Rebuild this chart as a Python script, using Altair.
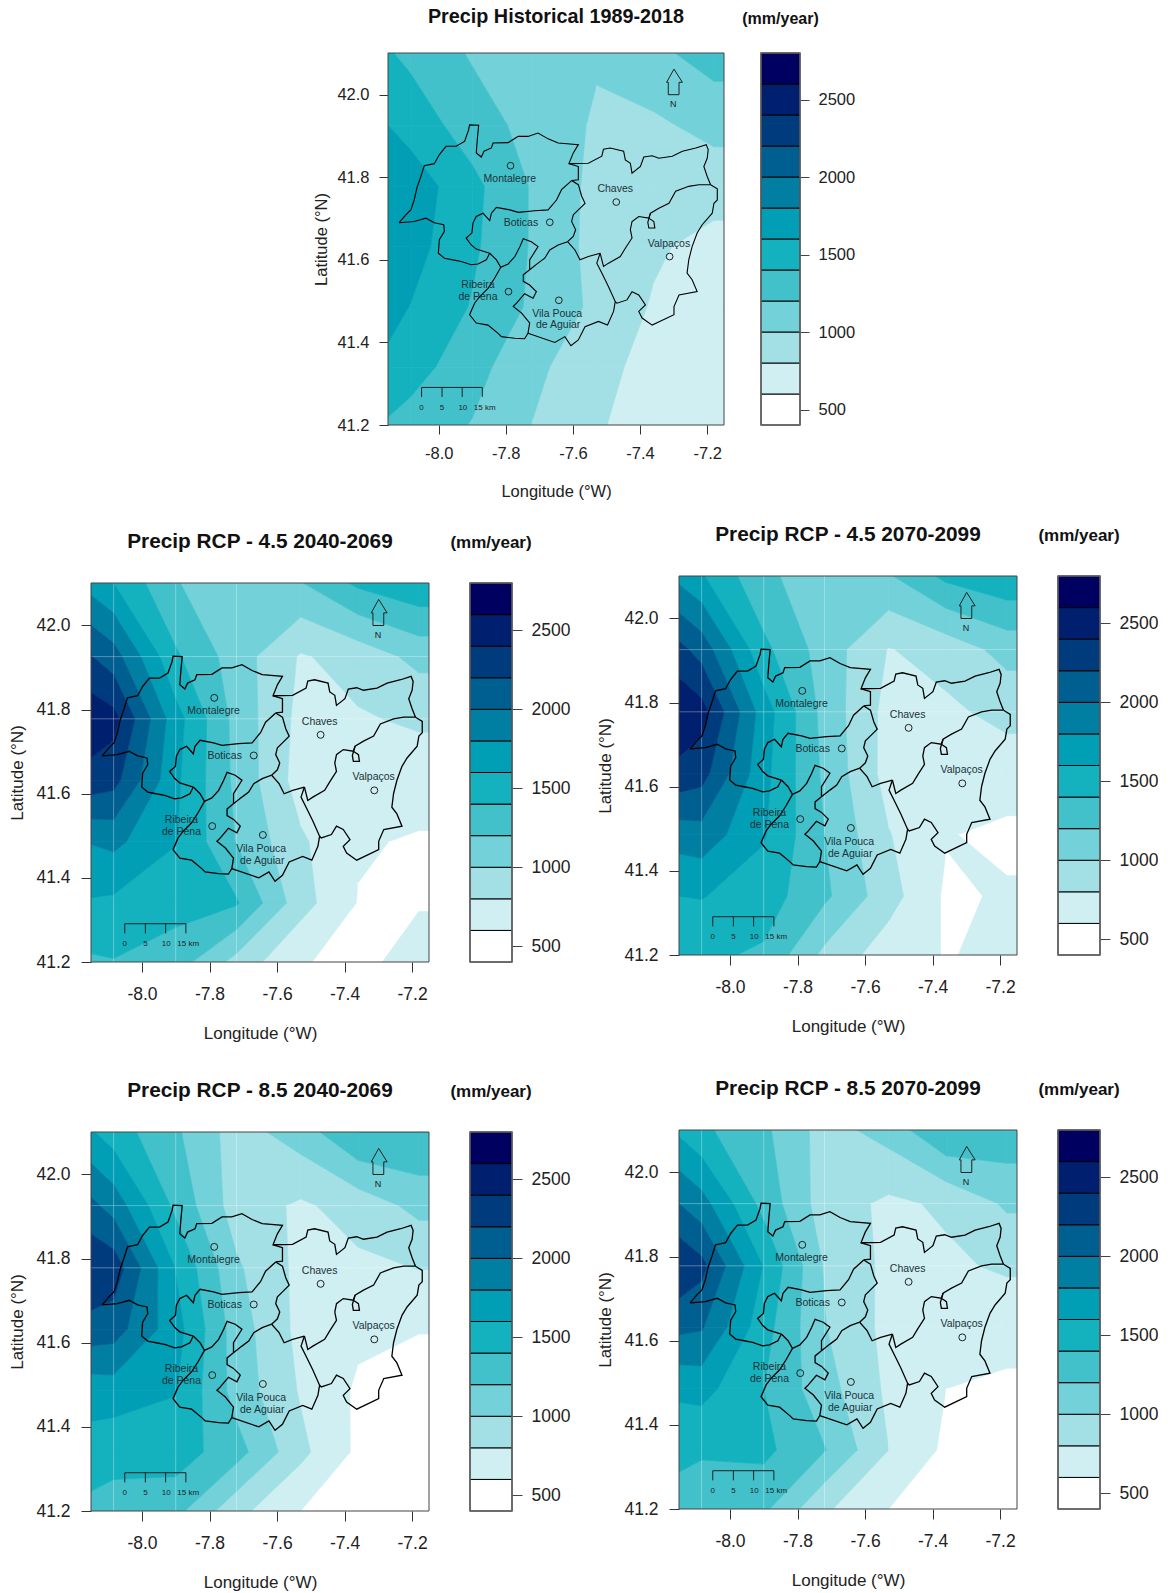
import altair as alt
import pandas as pd

FONT = "Liberation Sans"
LONS = [-8.151, -8.084, -7.90, -7.72, -7.53, -7.36, -7.18]
LATS = [42.101, 41.926, 41.778, 41.632, 41.486, 41.34, 41.2]
LON_MIN, LON_MAX, LAT_MIN, LAT_MAX = -8.151, -7.15, 41.2, 42.101

LEVELS = [400, 600, 800, 1000, 1200, 1400, 1600, 1800, 2000, 2200, 2400, 2600, 2800]
COLORS = ["#FFFFFF", "#CFEFF2", "#A3E0E6", "#72D1D9", "#43C1CB", "#14B2BF",
          "#009FB6", "#007FA3", "#005F91", "#003B7D", "#001F6E", "#000060"]

HIST = [
    [1417, 1353, 1178, 1095, 1020, 1150, 1290],
    [1600, 1520, 1298, 1130, 975, 965, 1060],
    [1780, 1720, 1455, 1180, 940, 845, 890],
    [1760, 1680, 1435, 1180, 930, 830, 730],
    [1660, 1595, 1385, 1165, 955, 780, 680],
    [1560, 1485, 1275, 1045, 875, 720, 650],
    [1375, 1320, 1190, 995, 825, 690, 630],
]
RCP45_A = [
    [1720, 1600, 1210, 1080, 1190, 1440, 1560],
    [2210, 2090, 1430, 1100, 780, 880, 1060],
    [2540, 2470, 1680, 1130, 740, 780, 830],
    [2320, 2270, 1640, 1150, 710, 680, 690],
    [1810, 1850, 1610, 1190, 830, 620, 580],
    [1580, 1560, 1470, 1420, 880, 590, 590],
    [1370, 1390, 1300, 930, 610, 560, 660],
]
RCP45_B = [
    [1740, 1620, 1240, 1090, 1180, 1450, 1560],
    [2260, 2120, 1450, 1110, 790, 880, 1070],
    [2570, 2480, 1700, 1130, 730, 760, 860],
    [2340, 2280, 1660, 1160, 720, 680, 690],
    [1890, 1920, 1620, 1200, 810, 610, 560],
    [1600, 1610, 1500, 1240, 880, 570, 620],
    [1430, 1440, 1370, 950, 690, 590, 640],
]
RCP85_A = [
    [1620, 1500, 1230, 910, 1100, 1400, 1400],
    [2050, 1920, 1350, 900, 770, 880, 1060],
    [2380, 2320, 1590, 1030, 745, 760, 805],
    [2120, 2090, 1680, 1100, 740, 640, 605],
    [1680, 1700, 1610, 1120, 780, 570, 540],
    [1520, 1470, 1500, 1280, 850, 560, 500],
    [1340, 1320, 1260, 860, 600, 500, 450],
]
RCP85_B = [
    [1560, 1440, 1240, 920, 1080, 1400, 1340],
    [2000, 1880, 1330, 900, 760, 830, 1030],
    [2370, 2260, 1590, 980, 750, 765, 830],
    [2050, 2020, 1480, 1010, 740, 690, 660],
    [1640, 1670, 1400, 1080, 760, 600, 570],
    [1460, 1420, 1450, 1210, 800, 560, 500],
    [1300, 1300, 1240, 830, 600, 500, 450],
]

BOUNDARIES = [
    [(-8.118,41.690),(-8.098,41.709),(-8.083,41.721),(-8.073,41.745),(-8.065,41.774),(-8.053,41.802),(-8.043,41.828),
     (-8.013,41.833),(-7.998,41.855),(-7.978,41.875),(-7.948,41.875),(-7.923,41.887),(-7.911,41.914),(-7.908,41.927),
     (-7.881,41.926),(-7.885,41.891),(-7.888,41.859),(-7.873,41.849),(-7.865,41.863),(-7.843,41.871),(-7.838,41.883),
     (-7.793,41.884),(-7.763,41.899),(-7.734,41.899),(-7.704,41.907),(-7.674,41.893),(-7.644,41.883),(-7.584,41.879),
     (-7.599,41.859),(-7.612,41.833),(-7.584,41.826),(-7.584,41.794),(-7.604,41.792)],
    [(-7.604,41.792),(-7.634,41.770),(-7.649,41.745),(-7.674,41.721),(-7.714,41.719),(-7.763,41.715),(-7.788,41.721),
     (-7.828,41.727),(-7.843,41.713),(-7.848,41.695),(-7.868,41.713),(-7.888,41.705),(-7.898,41.689),(-7.901,41.665),
     (-7.918,41.653),(-7.903,41.636),(-7.888,41.626),(-7.848,41.616)],
    [(-7.848,41.616),(-7.858,41.600),(-7.883,41.590),(-7.903,41.588),(-7.933,41.596),(-7.958,41.600),(-7.983,41.604),
     (-8.001,41.616),(-7.998,41.649),(-7.983,41.669),(-7.985,41.685),(-8.013,41.690),(-8.038,41.701),(-8.073,41.693),(-8.118,41.690)],
    [(-7.604,41.792),(-7.584,41.782),(-7.574,41.754),(-7.564,41.737),(-7.584,41.721),(-7.599,41.709),(-7.604,41.693),
     (-7.592,41.673),(-7.599,41.657),(-7.616,41.644)],
    [(-7.616,41.644),(-7.644,41.636),(-7.669,41.624),(-7.684,41.604),(-7.704,41.592),(-7.729,41.576)],
    [(-7.848,41.616),(-7.828,41.600),(-7.815,41.582),(-7.793,41.590),(-7.773,41.608),(-7.758,41.632),(-7.748,41.651),
     (-7.724,41.644),(-7.704,41.632),(-7.729,41.600),(-7.729,41.576)],
    [(-7.815,41.582),(-7.833,41.556),(-7.853,41.531),(-7.878,41.511),(-7.893,41.495),(-7.908,41.467),(-7.888,41.447),
     (-7.853,41.442),(-7.823,41.422),(-7.813,41.414),(-7.773,41.410),(-7.744,41.409),(-7.734,41.422),(-7.729,41.447),
     (-7.753,41.471),(-7.778,41.487),(-7.768,41.495),(-7.744,41.518),(-7.719,41.507),(-7.709,41.523),(-7.729,41.539),
     (-7.748,41.548),(-7.748,41.564),(-7.729,41.576)],
    [(-7.734,41.422),(-7.654,41.400),(-7.624,41.414),(-7.606,41.392),(-7.584,41.406),(-7.564,41.438),(-7.524,41.451),
     (-7.497,41.442),(-7.479,41.475),(-7.474,41.499),(-7.494,41.535),(-7.514,41.568),(-7.529,41.592),(-7.519,41.616)],
    [(-7.616,41.644),(-7.594,41.624),(-7.579,41.600),(-7.554,41.608),(-7.519,41.616)],
    [(-7.612,41.833),(-7.554,41.834),(-7.514,41.851),(-7.509,41.868),(-7.489,41.871),(-7.449,41.863),(-7.444,41.842),
     (-7.429,41.834),(-7.424,41.810),(-7.399,41.826),(-7.389,41.849),(-7.364,41.852),(-7.344,41.846),(-7.304,41.851),
     (-7.274,41.863),(-7.234,41.871),(-7.203,41.879),(-7.197,41.867),(-7.200,41.846),(-7.210,41.826),(-7.200,41.802),(-7.190,41.782)],
    [(-7.190,41.782),(-7.225,41.782),(-7.255,41.778),(-7.294,41.766),(-7.314,41.737),(-7.344,41.725),(-7.369,41.713),
     (-7.374,41.701),(-7.404,41.705),(-7.424,41.693),(-7.429,41.673),(-7.424,41.653),(-7.444,41.628),(-7.459,41.608),
     (-7.494,41.592),(-7.509,41.584),(-7.519,41.616)],
    [(-7.374,41.701),(-7.359,41.693),(-7.356,41.677),(-7.374,41.677),(-7.377,41.691),(-7.369,41.713)],
    [(-7.190,41.782),(-7.170,41.772),(-7.170,41.745),(-7.180,41.737),(-7.185,41.713),(-7.215,41.685),(-7.230,41.665),
     (-7.245,41.632),(-7.255,41.600),(-7.260,41.568),(-7.245,41.552),(-7.230,41.523),(-7.284,41.515),(-7.299,41.487),
     (-7.299,41.467),(-7.364,41.442),(-7.394,41.459),(-7.404,41.475),(-7.384,41.491),(-7.404,41.515),(-7.424,41.523),
     (-7.439,41.503),(-7.469,41.495),(-7.474,41.499)],
]

TOWNS_LON = [-7.786, -7.669, -7.471, -7.312, -7.792, -7.642]
TOWNS_LAT = [41.828, 41.691, 41.740, 41.608, 41.523, 41.502]
LABELS = ["Montalegre", "Boticas", "Chaves", "Valpaços", "Ribeira", "de Pena", "Vila Pouca", "de Aguiar"]
LABELS_LON = [-7.788, -7.755, -7.474, -7.314, -7.883, -7.883, -7.647, -7.644]
LABELS_LAT = [41.796, 41.690, 41.771, 41.639, 41.538, 41.510, 41.469, 41.441]

SCALE_LON = [-8.051, -7.990, -7.930, -7.870]
SCALE_TOP, SCALE_BOTTOM, SCALE_TEXT = 41.291, 41.268, 41.242
SCALE_LABELS = ["0", "5", "10", "15 km"]
SCALE_LABELS_LON = [-8.051, -7.990, -7.928, -7.863]
ARROW = [(-7.316,42.0),(-7.316,42.03),(-7.321,42.03),(-7.299,42.062),(-7.274,42.03),(-7.284,42.03),(-7.284,42.0),(-7.316,42.0)]
ARROW_TEXT = (-7.301, 41.977)
SEAM_LONS = [-8.084, -7.90, -7.72]
SEAM_LATS = [41.926, 41.778]
LON_TICKS = [-8.0, -7.8, -7.6, -7.4, -7.2]
LAT_TICKS = [41.2, 41.4, 41.6, 41.8, 42.0]
BAR_TICKS = [500, 1000, 1500, 2000, 2500]


def clip(poly, level, keep_above):
    out = []
    n = len(poly)
    for k in range(n):
        a, b = poly[k], poly[(k + 1) % n]
        ina = a[2] >= level if keep_above else a[2] <= level
        inb = b[2] >= level if keep_above else b[2] <= level
        if ina:
            out.append(a)
        if ina != inb:
            t = (level - a[2]) / (b[2] - a[2])
            out.append((a[0] + t * (b[0] - a[0]), a[1] + t * (b[1] - a[1]), level))
    return out


def band_table(grid):
    lons = LONS + [LON_MAX]
    rows = []
    pid = 0
    for r in range(len(LATS) - 1):
        g0 = grid[r] + [grid[r][-1]]
        g1 = grid[r + 1] + [grid[r + 1][-1]]
        for c in range(len(lons) - 1):
            cell = [(lons[c], LATS[r], g0[c]), (lons[c + 1], LATS[r], g0[c + 1]),
                    (lons[c + 1], LATS[r + 1], g1[c + 1]), (lons[c], LATS[r + 1], g1[c])]
            for b, col in enumerate(COLORS):
                p = clip(cell, LEVELS[b], True)
                if len(p) >= 3:
                    p = clip(p, LEVELS[b + 1], False)
                if len(p) < 3:
                    continue
                p = p + [p[0]]
                for i, q in enumerate(p):
                    rows.append({"lon": round(q[0], 4), "lat": round(q[1], 4), "pid": pid, "i": i, "col": col})
                pid += 1
    return pd.DataFrame(rows)


def path_table(paths):
    return pd.DataFrame([{"lon": p[0], "lat": p[1], "pid": s, "i": i}
                         for s, path in enumerate(paths) for i, p in enumerate(path)])


SX = alt.Scale(domain=[LON_MIN, LON_MAX], nice=False, zero=False)
SY = alt.Scale(domain=[LAT_MIN, LAT_MAX], nice=False, zero=False)


def panel(grid, title, s):
    ax_common = dict(domain=False, grid=False, ticks=True, tickColor="#333333", tickSize=s["tick"],
                     labelFont=FONT, labelFontSize=s["lab"], labelColor="#222222", titleFont=FONT,
                     titleFontSize=s["tit"], titleFontWeight="normal", titleColor="#222222",
                     labelExpr="'' + replace(format(datum.value,'.1f'),'\u2212','-')")
    ax_x = alt.Axis(values=LON_TICKS, title="Longitude (°W)", labelPadding=s["xlp"], titlePadding=s["xtp"], **ax_common)
    ax_y = alt.Axis(values=LAT_TICKS, title="Latitude (°N)", labelPadding=s["ylp"], titlePadding=s["ytp"], **ax_common)

    def X(field="lon"):
        return alt.X(field, type="quantitative", scale=SX, axis=ax_x)

    def Y(field="lat"):
        return alt.Y(field, type="quantitative", scale=SY, axis=ax_y)

    layers = [
        alt.Chart(band_table(grid)).mark_line(strokeWidth=0.7, clip=True).encode(
            x=X(), y=Y(), detail="pid:N", order="i:Q",
            fill=alt.Fill("col:N", scale=None), stroke=alt.Stroke("col:N", scale=None)),
    ]
    if s["seams"]:
        layers.append(alt.Chart(pd.DataFrame({"lon": SEAM_LONS})).mark_rule(color="white", opacity=0.3, strokeWidth=1).encode(x=X()))
        layers.append(alt.Chart(pd.DataFrame({"lat": SEAM_LATS})).mark_rule(color="white", opacity=0.3, strokeWidth=1).encode(y=Y()))
    lw = s["lw"]
    layers += [
        alt.Chart(path_table(BOUNDARIES)).mark_line(color="black", strokeWidth=lw).encode(x=X(), y=Y(), detail="pid:N", order="i:Q"),
        alt.Chart(pd.DataFrame({"lon": TOWNS_LON, "lat": TOWNS_LAT})).mark_point(
            shape="circle", filled=False, size=s["pt"], color="#222222", strokeWidth=1, opacity=1).encode(x=X(), y=Y()),
        alt.Chart(pd.DataFrame({"lon": LABELS_LON, "lat": LABELS_LAT, "t": LABELS})).mark_text(
            font=FONT, fontSize=s["town"], color="#1c3238").encode(x=X(), y=Y(), text="t:N"),
        alt.Chart(path_table([[(SCALE_LON[0], SCALE_TOP), (SCALE_LON[-1], SCALE_TOP)]] +
                             [[(v, SCALE_TOP), (v, SCALE_BOTTOM)] for v in SCALE_LON])).mark_line(
            color="#222222", strokeWidth=1).encode(x=X(), y=Y(), detail="pid:N", order="i:Q"),
        alt.Chart(pd.DataFrame({"lon": SCALE_LABELS_LON, "lat": [SCALE_TEXT] * 4, "t": SCALE_LABELS})).mark_text(
            font=FONT, fontSize=s["sc"], color="#222222").encode(x=X(), y=Y(), text="t:N"),
        alt.Chart(path_table([ARROW])).mark_line(color="#222222", strokeWidth=1).encode(x=X(), y=Y(), detail="pid:N", order="i:Q"),
        alt.Chart(pd.DataFrame({"lon": [ARROW_TEXT[0]], "lat": [ARROW_TEXT[1]], "t": ["N"]})).mark_text(
            font=FONT, fontSize=s["sc"] + 1, color="#222222").encode(x=X(), y=Y(), text="t:N"),
        alt.Chart(pd.DataFrame({"lon": [LON_MIN], "lon2": [LON_MAX], "lat": [LAT_MIN], "lat2": [LAT_MAX]})).mark_rect(
            fillOpacity=0, stroke="#444444", strokeWidth=1).encode(x=X(), x2="lon2:Q", y=Y(), y2="lat2:Q"),
    ]
    m = alt.layer(*layers).properties(
        width=s["w"], height=s["h"],
        title=alt.TitleParams(title, font=FONT, fontSize=s["tfs"], fontWeight="bold", color="#111111",
                              anchor="middle", frame="group", offset=s["toff"]))
    bar_df = pd.DataFrame({"lo": LEVELS[:-1], "hi": LEVELS[1:], "col": COLORS})
    sb = alt.Scale(domain=[400, 2800], nice=False, zero=False)
    ax_b = alt.Axis(values=BAR_TICKS, orient="right", title=None, domain=False, grid=False, tickColor="#444444",
                    tickSize=s["btick"], labelFont=FONT, labelFontSize=s["lab"], labelColor="#222222",
                    labelPadding=s["blp"], labelExpr="'' + datum.value")
    b = alt.layer(
        alt.Chart(bar_df).mark_rect(stroke="black", strokeWidth=1).encode(
            y=alt.Y("lo:Q", scale=sb, axis=ax_b), y2="hi:Q", fill=alt.Fill("col:N", scale=None)),
        alt.Chart(pd.DataFrame({"lo": [400], "hi": [2800]})).mark_rect(fillOpacity=0, stroke="#666666", strokeWidth=1.5).encode(
            y=alt.Y("lo:Q", scale=sb, axis=ax_b), y2="hi:Q"),
    ).properties(width=s["bw"], height=s["h"],
                 title=alt.TitleParams("(mm/year)", font=FONT, fontSize=s["mfs"], fontWeight="bold", color="#111111",
                                       anchor="middle", frame="group", offset=s["toff"]))
    return alt.hconcat(m, b, spacing=s["gap"])


def spacer(w, h):
    return alt.Chart(alt.Data(values=[{"a": 1}])).mark_point(opacity=0).properties(width=w, height=h)


S1 = dict(w=336, h=372, bw=39, tick=9, lab=16.5, tit=16.5, xlp=11.5, xtp=21.5, ylp=10, ytp=7, lw=1.1, pt=45, town=10.5,
          sc=8, seams=False, tfs=19.8, mfs=16, toff=25.5, btick=9, blp=9, gap=17)
S2 = dict(w=338, h=379, bw=42, tick=10, lab=17.5, tit=17, xlp=13, xtp=23, ylp=11, ytp=9, lw=1.3, pt=48, town=10.5,
          sc=8, seams=True, tfs=20.8, mfs=17, toff=30, btick=10, blp=9, gap=20)

top = panel(HIST, "Precip Historical 1989-2018", S1)
p2 = panel(RCP45_A, "Precip RCP - 4.5 2040-2069", S2)
p3 = panel(RCP45_B, "Precip RCP - 4.5 2070-2099", S2)
p4 = panel(RCP85_A, "Precip RCP - 8.5 2040-2069", S2)
p5 = panel(RCP85_B, "Precip RCP - 8.5 2070-2099", S2)

row1 = alt.hconcat(spacer(1, 1), top, spacing=218)
left = alt.vconcat(spacer(1, 11), p2, spacer(1, 37), p4, spacing=0)
right = alt.vconcat(spacer(1, 1), p3, spacer(1, 42), p5, spacing=0)
row2 = alt.hconcat(left, right, spacing=26)
chart = alt.vconcat(row1, row2, spacing=16).properties(
    padding={"left": 0, "top": -1, "right": 0, "bottom": 0}).configure_view(stroke=None)
chart.save("out.html", embed_options={"renderer": "svg", "actions": False})
